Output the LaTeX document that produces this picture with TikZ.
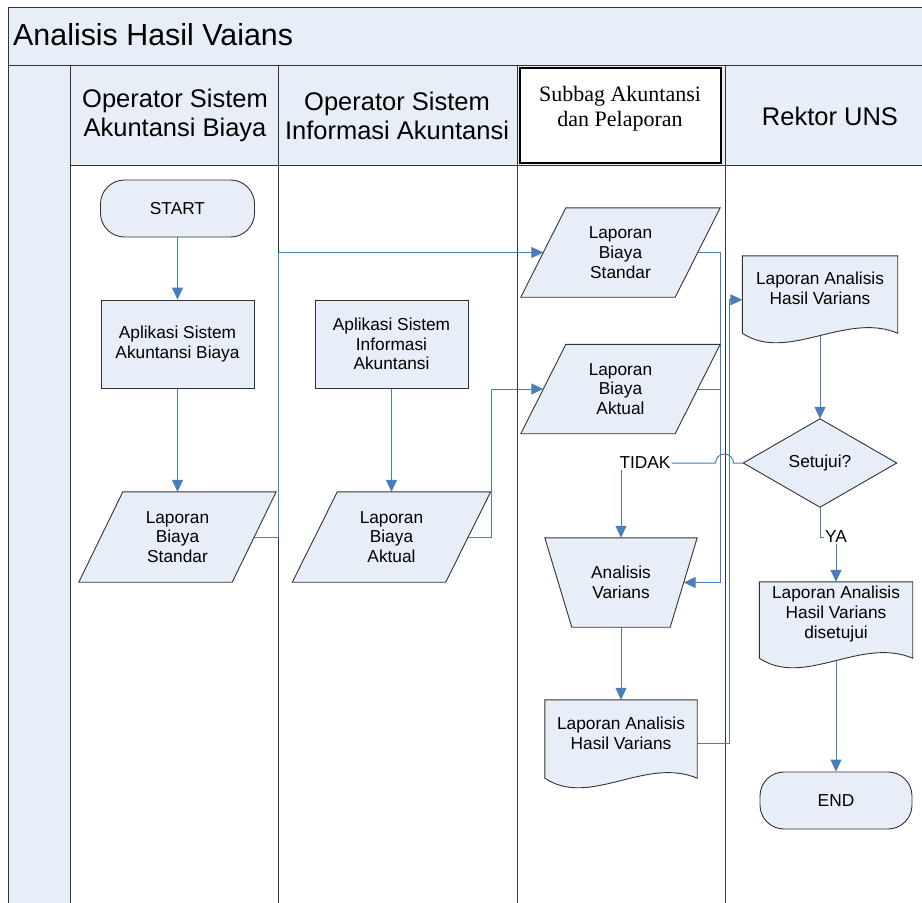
\documentclass[tikz,border=0pt]{standalone}
\usepackage{fontspec}
\setmainfont{Liberation Sans}
\newfontfamily\timesfont{Liberation Serif}
\usetikzlibrary{arrows.meta,calc}
\definecolor{lb}{RGB}{232,238,247}
\definecolor{cb}{RGB}{74,126,187}
\pgfdeclarelayer{bg}
\pgfdeclarelayer{conn}
\pgfdeclarelayer{shp}
\pgfsetlayers{bg,conn,shp,main}
\begin{document}
\begin{tikzpicture}[x=1pt,y=-1pt,
  txt/.style={align=center,inner sep=0pt,font=\fontsize{17.3}{19.8}\selectfont},
  hdr/.style={align=center,inner sep=0pt,font=\fontsize{25.5}{29}\selectfont},
  fshape/.style={draw=black!80,line width=0.9pt,fill=lb},
  lane/.style={draw=black!80,line width=0.8pt},
  link/.style={draw=cb,line width=1pt},
  arr/.style={link,-{Triangle[length=12pt,width=11pt]}},
]
\useasboundingbox (0,0) rectangle (922,903);

% ---------- background: pool and lanes ----------
\begin{pgfonlayer}{bg}
  \fill[lb] (8,7) rectangle (922,65);
  \fill[lb] (8,65) rectangle (70,903);
  \fill[lb] (70,65) rectangle (922,165);
  \draw[lane] (8,903) -- (8,7) -- (922,7);
  \draw[lane] (8,65) -- (922,65);
  \draw[lane] (70,165) -- (922,165);
  \foreach \x in {70,278,517,725} \draw[lane] (\x,65) -- (\x,903);
  \draw[line width=2.5pt,fill=white] (520,68) rectangle (721,163);
\end{pgfonlayer}

% ---------- titles ----------
\node[anchor=west,inner sep=0pt,font=\fontsize{30.4}{36}\selectfont] (title) at (13,35) {Analisis Hasil Vaians};
\node[hdr] (h1) at (175,115.5) {Operator Sistem\\Akuntansi Biaya};
\node[hdr] (h2) at (397,115.5) {Operator Sistem\\Informasi Akuntansi};
\node[align=center,inner sep=0pt,font=\timesfont\fontsize{22}{25}\selectfont] (h3) at (620,108.5) {Subbag Akuntansi\\dan Pelaporan};
\node[hdr] (h4) at (830,116) {Rektor UNS};

% ---------- nodes ----------
\node[txt,fshape,rounded corners=24,minimum width=154,minimum height=57] (start) at (177.5,208.5) {START};
\node[txt,fshape,minimum width=153,minimum height=88] (asab) at (177.5,344) {Aplikasi Sistem\\Akuntansi Biaya};
\node[txt,fshape,minimum width=153,minimum height=88] (asia) at (391.5,344) {Aplikasi Sistem\\Informasi\\Akuntansi};
\node[txt,minimum width=197,minimum height=90] (lbs1) at (177.5,537) {Laporan\\Biaya\\Standar};
\node[txt,minimum width=198,minimum height=90] (lba2) at (391.5,537) {Laporan\\Biaya\\Aktual};
\node[txt,minimum width=199,minimum height=89] (lbs3) at (620.5,252.5) {Laporan\\Biaya\\Standar};
\node[txt,minimum width=199,minimum height=89] (lba3) at (620.5,389) {Laporan\\Biaya\\Aktual};
\node[txt,minimum width=152,minimum height=89] (av) at (621,582.5) {Analisis\\Varians};
\node[txt,minimum width=152,minimum height=66] (doc3) at (621,733) {Laporan Analisis\\Hasil Varians};
\node[txt,minimum width=155,minimum height=65] (doc4) at (820,288.5) {Laporan Analisis\\Hasil Varians};
\node[txt,minimum width=153,minimum height=88] (dia) at (820,463) {Setujui?};
\node[txt,minimum width=153,minimum height=64] (doc5) at (836,614) {Laporan Analisis\\Hasil Varians\\disetujui};
\node[txt,fshape,rounded corners=24,minimum width=152,minimum height=57] (end) at (836,800.5) {END};
\node[txt,inner sep=1pt] (tidak) at (645,463) {TIDAK};
\node[txt,inner sep=1pt] (ya) at (836,537) {YA};

% ---------- shapes ----------
\begin{pgfonlayer}{shp}
  \foreach \n/\o in {lbs1/44,lba2/45,lbs3/45,lba3/45}
    \draw[fshape] (\n.south west) -- ($(\n.north west)+(\o,0)$) -- (\n.north east) -- ($(\n.south east)-(\o,0)$) -- cycle;
  \draw[fshape] (av.north west) -- (av.north east) -- ($(av.south east)-(27,0)$) -- ($(av.south west)+(27,0)$) -- cycle;
  \draw[fshape] (dia.west) -- (dia.north) -- (dia.east) -- (dia.south) -- cycle;
  \foreach \n in {doc3,doc4,doc5}
    \draw[fshape] (\n.north west) -- ($(\n.south west)+(0,12)$)
      .. controls +(45,30) and +(-52,-22) .. ($(\n.south east)+(0,12)$)
      -- (\n.north east) -- cycle;
\end{pgfonlayer}

% ---------- connectors ----------
\coordinate (k1) at (278,0);
\coordinate (k2) at (491,0);
\coordinate (k3) at (720.5,0);
\coordinate (k4) at (729,0);
\coordinate (lbs3in) at ($(lbs3.west)+(22.5,0)$);
\coordinate (lba3in) at ($(lba3.west)+(22.5,0)$);
\coordinate (avin) at ($(av.east)-(13.5,0)$);
\coordinate (d3r) at ($(doc3.north)+(0,44)$);
\coordinate (d4l) at ($(doc4.north west)+(0,44)$);
\coordinate (hopR) at ($(k4 |- dia.west)+(4.5,0)$);
\begin{pgfonlayer}{conn}
  \draw[arr] (start) -- (asab);
  \draw[arr] (asab) -- (lbs1);
  \draw[arr] (asia) -- (lba2);
  \draw[arr] (lbs1.center) -- (lbs1.center -| k1) |- (lbs3in);
  \draw[arr] (lba2.center) -- (lba2.center -| k2) |- (lba3in);
  \draw[arr] (lbs3.center) -- (lbs3.center -| k3) |- (avin);
  \draw[link] (lba3.center) -- (lba3.center -| k3);
  \draw[arr] (av) -- (doc3);
  \draw[arr] (d3r) -- (d3r -| k4) |- (d4l);
  \draw[arr] (doc4) -- (dia.north);
  \draw[link] (dia.west) -- (hopR) arc[start angle=0,end angle=-180,radius=9] -- (tidak.east);
  \draw[arr] (tidak.south -| av.north) -- (av.north);
  \draw[link] (dia.south) |- (ya.west);
  \draw[arr] (ya.south) -- (doc5.north);
  \draw[arr] (doc5) -- (end.north);
\end{pgfonlayer}
\end{tikzpicture}
\end{document}
